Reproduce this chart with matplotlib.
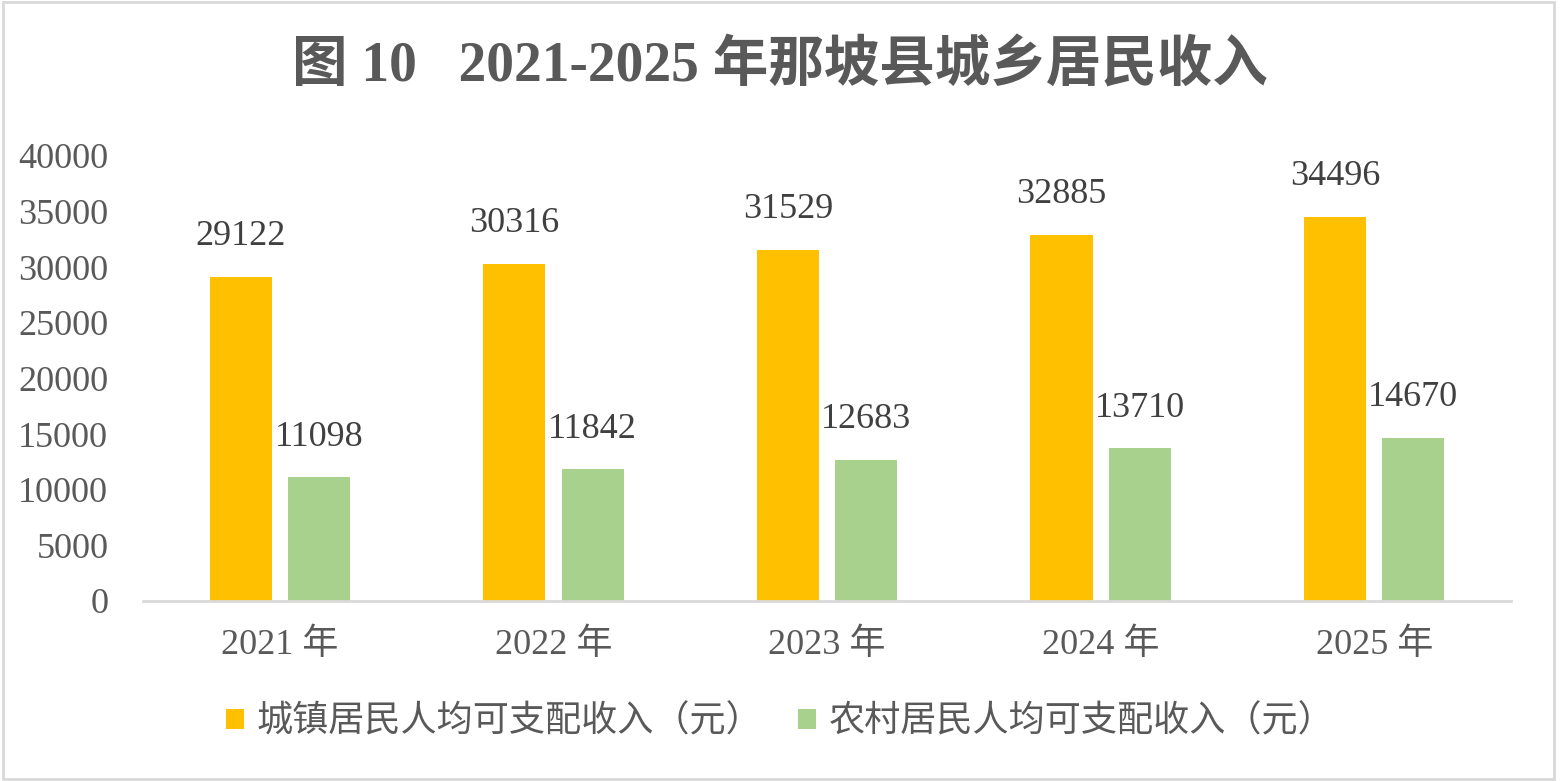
import numpy as np
import matplotlib.pyplot as plt
from matplotlib.patches import Rectangle

years = ['2021 年', '2022 年', '2023 年', '2024 年', '2025 年']
urban = [29122, 30316, 31529, 32885, 34496]
rural = [11098, 11842, 12683, 13710, 14670]
series_names = ['城镇居民人均可支配收入（元）', '农村居民人均可支配收入（元）']
title = '图 10   2021-2025 年那坡县城乡居民收入'

plt.rcParams['font.family'] = ['Liberation Serif', 'Noto Sans CJK SC', 'DejaVu Sans']

fig = plt.figure(figsize=(15.6, 7.81), dpi=100)
ax = fig.add_axes([0.0917, 0.2305, 0.8769, 0.5700])

x = np.arange(len(years))
w = 0.227
off = 0.143
b1 = ax.bar(x - off, urban, w, color='#FFC000', label=series_names[0])
b2 = ax.bar(x + off, rural, w, color='#A9D18E', label=series_names[1])

for bars, vals in ((b1, urban), (b2, rural)):
    for r, v in zip(bars, vals):
        ax.annotate(str(v), (r.get_x() + r.get_width() / 2, v),
                    xytext=(0, 17), textcoords='offset points',
                    ha='center', va='bottom', fontsize=26, color='#404040')

ax.set_xlim(-0.5, len(years) - 0.5)
ax.set_ylim(0, 40000)
ax.set_yticks(range(0, 40001, 5000))
ax.set_xticks(x)
ax.set_xticklabels(years)
ax.tick_params(axis='both', length=0, labelsize=26, colors='#595959')
ax.tick_params(axis='x', pad=20)
ax.tick_params(axis='y', pad=25)
for s in ['top', 'right', 'left']:
    ax.spines[s].set_visible(False)
ax.spines['bottom'].set_color('#D9D9D9')
ax.spines['bottom'].set_linewidth(2)

fig.text(0.5, 0.915, title, ha='center', va='center', fontsize=40,
         fontweight='bold', color='#595959')

fig.legend(handles=[b1, b2], loc='center', bbox_to_anchor=(0.5, 0.075),
           ncol=2, frameon=False, fontsize=26, handlelength=0.5,
           handleheight=0.5, handletextpad=0.35, columnspacing=1.0,
           labelcolor='#595959')

fig.patches.append(Rectangle((0.002, 0.003), 0.994, 0.994, transform=fig.transFigure,
                             fill=False, edgecolor='#D9D9D9', linewidth=2))

fig.savefig('out.png', dpi=100, facecolor='white')
